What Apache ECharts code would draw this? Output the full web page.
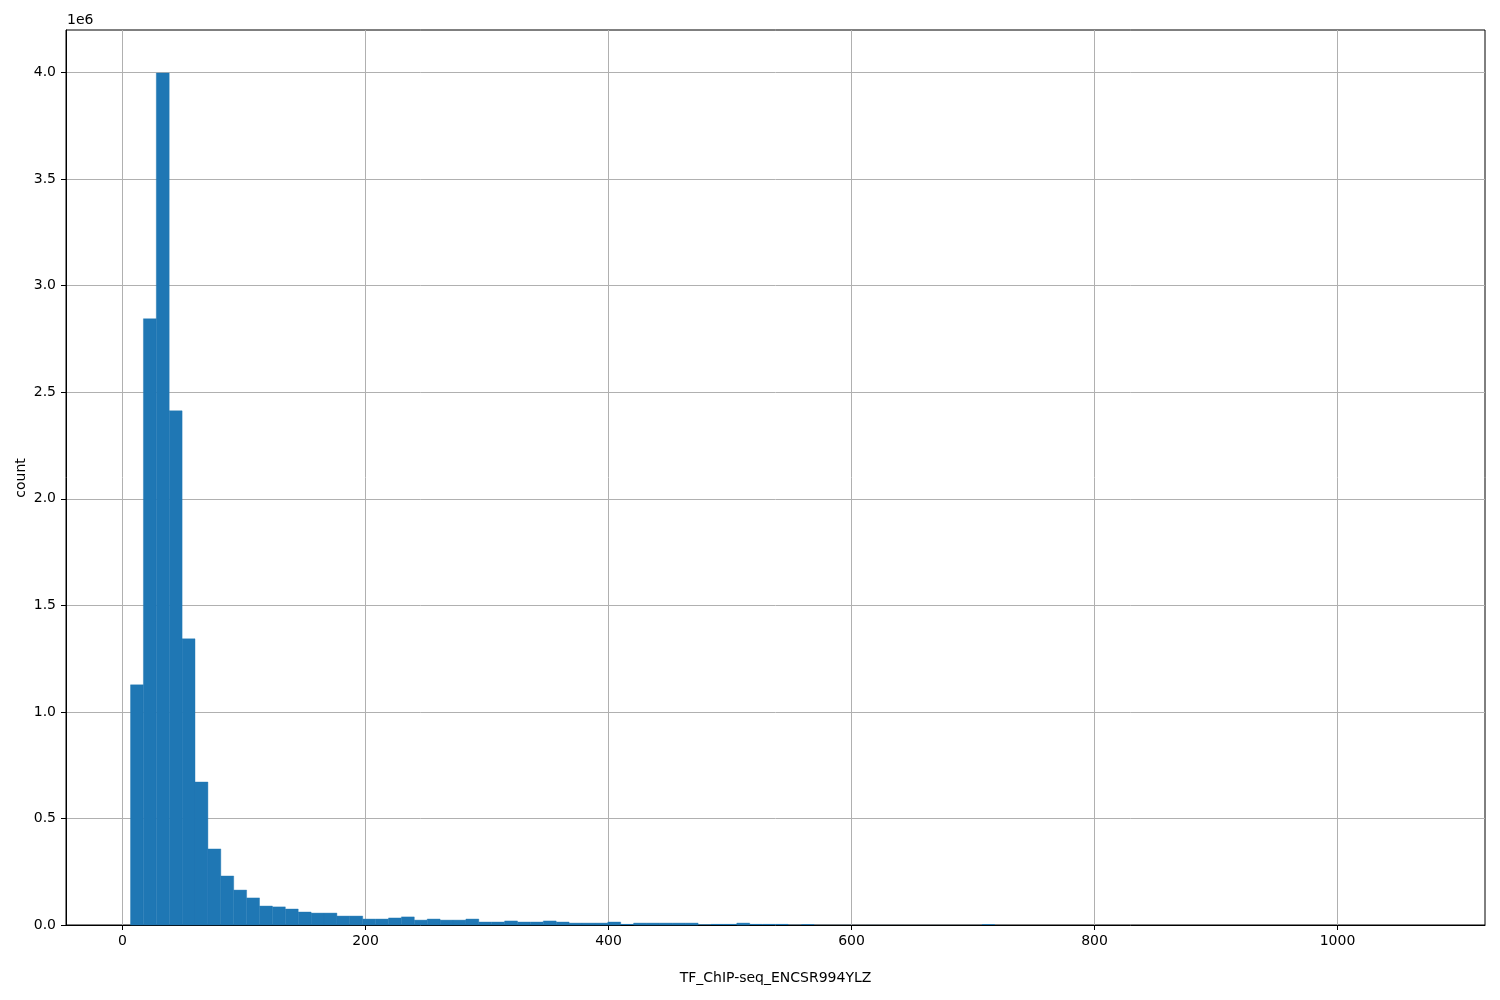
<!DOCTYPE html>
<html>
<head>
<meta charset="utf-8">
<script src="https://cdn.jsdelivr.net/npm/echarts@6/dist/echarts.min.js"></script>
<style>
html,body{margin:0;padding:0;background:#fff;}
#chart{width:1500px;height:1000px;}
</style>
</head>
<body>
<div id="chart"></div>
<script>
// Histogram definition: 100 equal-width bins
const binStart = 6.6;
const binWidth = 10.617;
// counts per bin, in millions
const counts = [
  1.127, 2.845, 3.998, 2.413, 1.343, 0.671, 0.357, 0.230, 0.164, 0.127,
  0.089, 0.085, 0.075, 0.061, 0.056, 0.056, 0.042, 0.042, 0.028, 0.028,
  0.033, 0.038, 0.023, 0.028, 0.023, 0.023, 0.028, 0.014, 0.014, 0.019,
  0.014, 0.014, 0.019, 0.014, 0.009, 0.009, 0.009, 0.014, 0.005, 0.009,
  0.009, 0.009, 0.009, 0.009, 0.003, 0.005, 0.005, 0.009, 0.005, 0.005,
  0.005, 0.001, 0.004, 0.0005, 0.0004, 0.0005, 0.0003, 0.0004, 0.0003, 0.0003,
  0.0002, 0.0003, 0.0002, 0.0002, 0.0002, 0.0003, 0.004, 0.0002, 0.0001, 0.0001,
  0.0001, 0.0001, 0.0001, 0.0001, 0.0001, 0.0001, 0.0001, 0.0001, 0.0001, 0.0001,
  0.0001, 0.0001, 0.0001, 0.0001, 0.0001, 0.0001, 0.0001, 0.0001, 0.0001, 0.0001,
  0.0001, 0.0001, 0.0001, 0.0001, 0.0001, 0.0001, 0.0001, 0.0001, 0.0001, 0.0001
];
const xTicks = [0, 200, 400, 600, 800, 1000];
const yTicks = [0, 0.5, 1.0, 1.5, 2.0, 2.5, 3.0, 3.5, 4.0];
const xLabel = 'TF_ChIP-seq_ENCSR994YLZ';
const yLabel = 'count';
const yScaleText = '1e6';

const histData = counts.map((c, i) => [binStart + i * binWidth, binStart + (i + 1) * binWidth, c * 1e6]);

const FONT = 'DejaVu Sans';
const chart = echarts.init(document.getElementById('chart'), null, {renderer: 'canvas'});
chart.setOption({
  animation: false,
  backgroundColor: '#ffffff',
  textStyle: {fontFamily: FONT},
  grid: {left: 66, right: 15, top: 30, bottom: 75, show: true, borderColor: '#000', borderWidth: 1, backgroundColor: 'transparent'},
  graphic: [{
    type: 'text', left: 67, top: 13,
    style: {text: yScaleText, font: '14px "DejaVu Sans"', fill: '#000'}
  }, {
    type: 'text', x: 21, y: 478, rotation: Math.PI / 2,
    style: {text: yLabel, font: '14px "DejaVu Sans"', fill: '#000', align: 'center', verticalAlign: 'middle'}
  }],
  xAxis: {
    type: 'value', min: -46.5, max: 1121.4,
    name: xLabel, nameLocation: 'middle', nameGap: 46,
    nameTextStyle: {fontFamily: FONT, fontSize: 14, color: '#000'},
    axisLine: {show: true, onZero: false, lineStyle: {color: '#000', width: 1}},
    axisTick: {show: true, length: 5, lineStyle: {color: '#000'}, customValues: xTicks},
    axisLabel: {fontFamily: FONT, fontSize: 14, color: '#000', margin: 9, customValues: xTicks,
      formatter: v => String(v)},
    splitLine: {show: true, lineStyle: {color: '#b0b0b0', width: 1}}
  },
  yAxis: {
    type: 'value', min: 0, max: 4.2e6, interval: 0.5e6,
    axisLine: {show: true, onZero: false, lineStyle: {color: '#000', width: 1}},
    axisTick: {show: true, length: 5, lineStyle: {color: '#000'}, customValues: yTicks.map(v => v * 1e6)},
    axisLabel: {fontFamily: FONT, fontSize: 14, color: '#000', margin: 10,
      customValues: yTicks.map(v => v * 1e6),
      formatter: v => (v / 1e6).toFixed(1)},
    splitLine: {show: true, lineStyle: {color: '#b0b0b0', width: 1}}
  },
  series: [{
    type: 'custom',
    data: histData,
    encode: {x: [0, 1], y: 2},
    renderItem: function (params, api) {
      const p0 = api.coord([api.value(0), api.value(2)]);
      const p1 = api.coord([api.value(1), 0]);
      const h = p1[1] - p0[1];
      return {
        type: 'rect',
        shape: {x: p0[0], y: p0[1], width: p1[0] - p0[0], height: h},
        style: h > 1.5 ? {fill: '#1f77b4', stroke: '#1f77b4', lineWidth: 0.4} : {fill: '#1f77b4'}
      };
    }
  }]
});
</script>
</body>
</html>
